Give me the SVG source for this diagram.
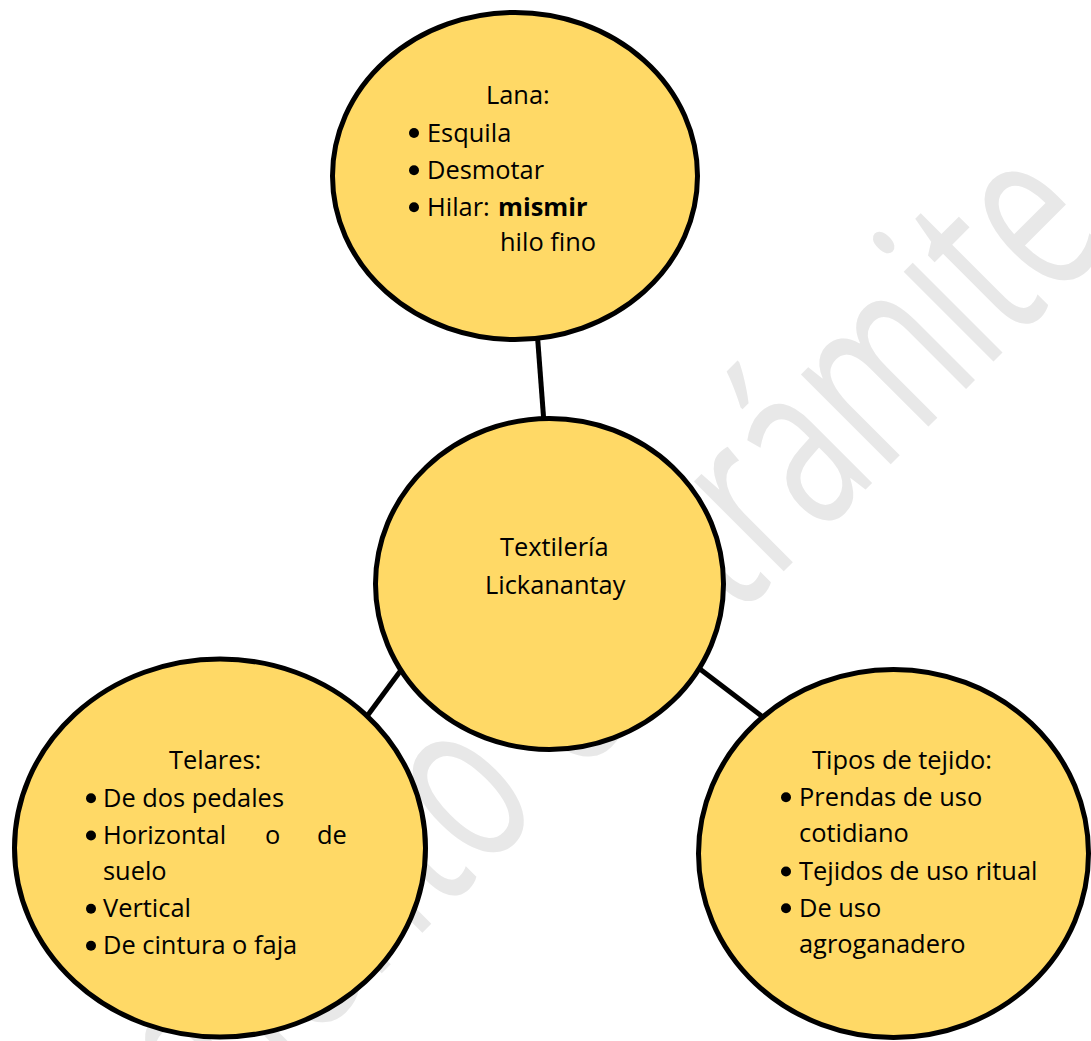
<svg xmlns="http://www.w3.org/2000/svg" width="1091" height="1041" viewBox="0 0 1091 1041">
  <style>
    .bubble { fill: #FFD966; stroke: #000; stroke-width: 5; }
    .link { stroke: #000; stroke-width: 5; fill: none; }
    .label { font-family: "Open Sans", "Noto Sans", "Liberation Sans", sans-serif; font-size: 25.4px; fill: #000; }
    .bold { font-weight: bold; }
    .dot { fill: #000; }
    .mark { font-family: "Open Sans", "Noto Sans", sans-serif; font-size: 157px; fill: #e8e8e8; }
  </style>

  <rect width="1091" height="1041" fill="#fff"/>

  <!-- diagonal background stamp -->
  <text class="mark" transform="translate(-61.5,1416.5) rotate(-45) scale(1,1.51)">Documento en trámite</text>

  <!-- connectors -->
  <g id="connectors">
    <line class="link" x1="537" y1="330" x2="544.5" y2="430"/>
    <line class="link" x1="407" y1="662" x2="362" y2="723"/>
    <line class="link" x1="692" y1="663" x2="768" y2="721"/>
  </g>

  <!-- wool processing -->
  <g id="node-lana">
    <ellipse class="bubble" cx="515" cy="176" rx="182.5" ry="163.5"/>
    <text class="label" x="486" y="104">Lana:</text>
    <circle class="dot" cx="414" cy="133" r="5"/>
    <text class="label" x="427" y="141.7">Esquila</text>
    <circle class="dot" cx="414" cy="170.3" r="5"/>
    <text class="label" x="427" y="179">Desmotar</text>
    <circle class="dot" cx="414" cy="207.3" r="5"/>
    <text class="label" x="427" y="216">Hilar: <tspan class="bold" x="498">mismir</tspan></text>
    <text class="label" x="500" y="250.7">hilo fino</text>
  </g>

  <!-- central topic -->
  <g id="node-textileria">
    <ellipse class="bubble" cx="549.5" cy="584" rx="174" ry="165.5"/>
    <text class="label" x="500" y="555.7">Textilería</text>
    <text class="label" x="485" y="594">Lickanantay</text>
  </g>

  <!-- looms -->
  <g id="node-telares">
    <ellipse class="bubble" cx="220" cy="848" rx="205.5" ry="189"/>
    <text class="label" x="169" y="769.3">Telares:</text>
    <circle class="dot" cx="91" cy="798.2" r="5"/>
    <text class="label" x="103" y="806.7">De dos pedales</text>
    <circle class="dot" cx="91" cy="835.5" r="5"/>
    <text class="label" x="103" y="844">Horizontal</text>
    <text class="label" x="265" y="844">o</text>
    <text class="label" x="317" y="844">de</text>
    <text class="label" x="103" y="880">suelo</text>
    <circle class="dot" cx="91" cy="908.8" r="5"/>
    <text class="label" x="103" y="917.3">Vertical</text>
    <circle class="dot" cx="91" cy="945.8" r="5"/>
    <text class="label" x="103" y="954.3">De cintura o faja</text>
  </g>

  <!-- weave types -->
  <g id="node-tipos">
    <ellipse class="bubble" cx="893.5" cy="853.5" rx="195" ry="184"/>
    <text class="label" x="812" y="769.3">Tipos de tejido:</text>
    <circle class="dot" cx="786" cy="797.2" r="5"/>
    <text class="label" x="799" y="805.7">Prendas de uso</text>
    <text class="label" x="799" y="842.3">cotidiano</text>
    <circle class="dot" cx="786" cy="871.5" r="5"/>
    <text class="label" x="799" y="880">Tejidos de uso ritual</text>
    <circle class="dot" cx="786" cy="908.2" r="5"/>
    <text class="label" x="799" y="916.7">De uso</text>
    <text class="label" x="799" y="953.3">agroganadero</text>
  </g>
</svg>
